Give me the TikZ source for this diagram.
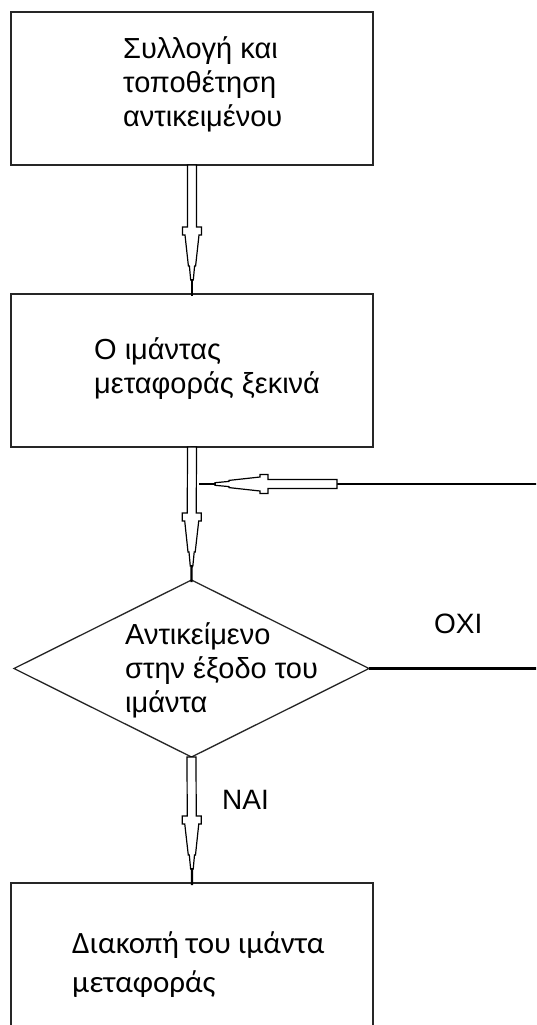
\documentclass[tikz,border=0pt]{standalone}
\usepackage{fontspec}
\setmainfont{Liberation Sans}
\newfontfamily\carlito{Carlito}
\usetikzlibrary{shapes.geometric,calc}

% point at distance #1 back from the tip, offset #2 sideways (inside a let)
\newcommand\arrowpt[2]{({\x2-(#1)*\n2-(#2)*\n3},{\y2-(#1)*\n3+(#2)*\n2})}
\newcommand\arrowlet[2]{let \p1=(#1), \p2=(#2), \n1={veclen(\x2-\x1,\y2-\y1)},
    \n2={(\x2-\x1)/\n1}, \n3={(\y2-\y1)/\n1} in}
% outlined block arrow from #1 to #2
\newcommand\hollowarrow[2]{%
  \draw[harrow] \arrowlet{#1}{#2}
    ({\x1-4.5*(\n3)},{\y1+4.5*(\n2)}) -- \arrowpt{67}{4.5} -- \arrowpt{67}{9.5}
    -- \arrowpt{59}{9.5} -- \arrowpt{59}{7} -- \arrowpt{28}{3.6} -- \arrowpt{28}{2.6}
    -- \arrowpt{14}{1.3} -- \arrowpt{14}{-1.3} -- \arrowpt{28}{-2.6} -- \arrowpt{28}{-3.6}
    -- \arrowpt{59}{-7} -- \arrowpt{59}{-9.5} -- \arrowpt{67}{-9.5} -- \arrowpt{67}{-4.5}
    -- ({\x1+4.5*(\n3)},{\y1-4.5*(\n2)}) -- cycle;
  \draw[harrowstub] \arrowlet{#1}{#2} \arrowpt{15}{0} -- \arrowpt{-2}{0};
}

\begin{document}
\begin{tikzpicture}[x=1pt,y=-1pt,
  box/.style={draw=black!85,line width=2pt,rectangle,minimum width=362pt,
    inner sep=0pt,outer sep=0pt},
  decision/.style={draw=black!85,line width=1.3pt,diamond,minimum width=355pt,
    minimum height=177pt,inner sep=0pt,outer sep=0pt},
  txt/.style={anchor=base west,align=left,inner sep=0pt,
    font=\fontsize{29}{34}\selectfont},
  lbl/.style={anchor=base west,inner sep=0pt,font=\fontsize{28}{32}\selectfont},
  harrow/.style={draw=black,fill=white,line width=1.2pt,line join=miter},
  harrowstub/.style={draw=black,line width=2.4pt},
  loopline/.style={draw=black,line width=1.8pt}]
\clip (0,0) rectangle (536,1025);
\fill[white] (0,0) rectangle (536,1025);

% process boxes and the decision
\node[box,minimum height=153pt] (b1) at (192,88.5) {};
\node[box,minimum height=153pt] (b2) at (192,370.5) {};
\node[decision] (dia) at (191.5,668.5) {};
\node[box,minimum height=160pt] (b3) at (192,963) {};

% texts (anchored at the baseline of their last line)
\node[txt] (t1) at (123,126.5) {Συλλογή και\\τοποθέτηση\\αντικειμένου};
\node[txt] (t2) at (94,393) {Ο ιμάντας\\μεταφοράς ξεκινά};
\node[txt] (t3) at (125,712) {Αντικείμενο\\στην έξοδο του\\ιμάντα};
\node[txt,font=\carlito\fontsize{31}{39}\selectfont] (t4) at (72,992)
  {Διακοπή του ιμάντα\\μεταφοράς};
\node[lbl] (no) at (434,633) {ΟΧΙ};
\node[lbl] (yes) at (222,809) {ΝΑΙ};

% main flow
\hollowarrow{b1.south}{b2.north}
\hollowarrow{b2.south}{dia.north}
\hollowarrow{dia.south}{b3.north}

% loop back when the item has not arrived
\coordinate (c2) at (539,484);
\coordinate (c1) at (dia.east -| c2);
\coordinate (c3) at (337,484);
\coordinate (c4) at ($(b2.south |- c2)+(9,0)$);
\draw[loopline,line width=2.4pt] (dia.east) -- (c1);
\draw[loopline,line width=1.6pt] (c1) -- (c2) -- (c3);
\hollowarrow{c3}{c4}
\end{tikzpicture}
\end{document}
